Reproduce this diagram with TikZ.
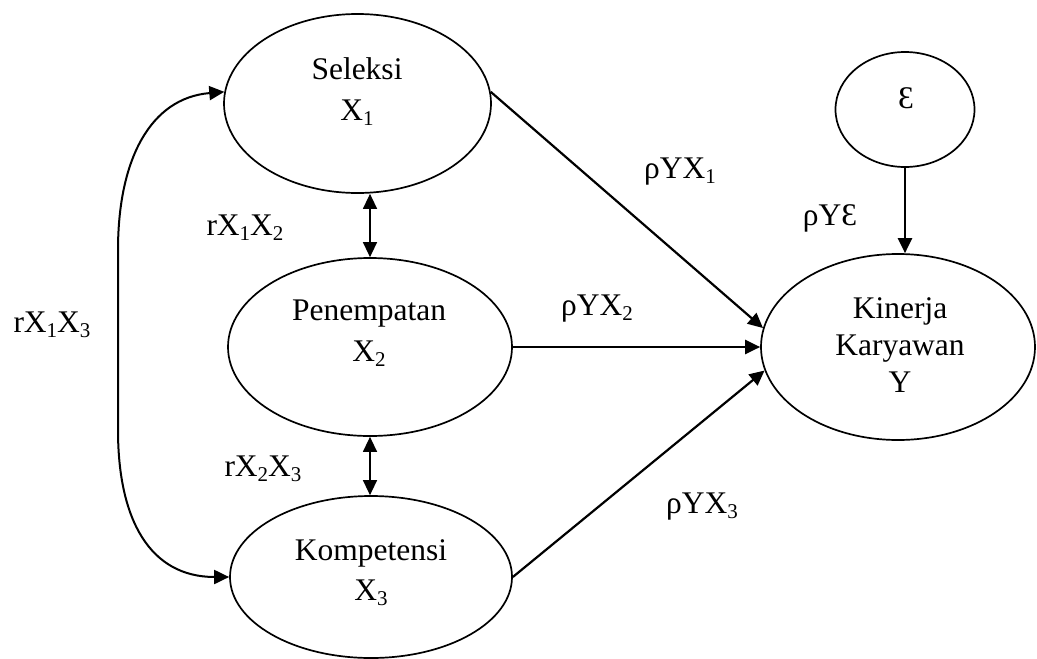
\documentclass[tikz,border=0pt]{standalone}
\usepackage{fontspec}
\setmainfont{Liberation Serif}
\usetikzlibrary{arrows.meta,shapes.geometric}
\newcommand{\subs}[1]{\raisebox{-0.17em}{\fontsize{21}{21}\selectfont #1}}
\begin{document}
\begin{tikzpicture}[x=1pt,y=-1pt,
  every node/.style={font=\fontsize{31.5}{38}\selectfont},
  var/.style={draw, line width=1.7pt, ellipse, inner sep=0pt},
  txt/.style={anchor=base, inner sep=0pt},
  path arrow/.style={line width=2.2pt, -{Triangle[length=15pt,width=14pt]}},
  corr/.style={line width=1.3pt, {Triangle[length=15pt,width=14pt]}-{Triangle[length=15pt,width=14pt]}},
  curve arrow/.style={line width=2pt, {Triangle[length=15pt,width=14pt]}-{Triangle[length=15pt,width=14pt]}}
]
\useasboundingbox (0,0) rectangle (1037,659);
% ellipses
\node[var, minimum width=267pt, minimum height=179pt] (s) at (357.5,103.5) {};
\node[var, minimum width=284pt, minimum height=178pt] (p) at (370,347) {};
\node[var, minimum width=282pt, minimum height=162pt] (c) at (371,577) {};
\node[var, minimum width=139pt, minimum height=115pt] (e) at (905,109.5) {};
\node[var, minimum width=274pt, minimum height=186pt] (k) at (898,347) {};
% texts inside
\node[txt] (s1) at (357,79) {Seleksi};
\node[txt] (s2) at (357,120) {X\subs{1}};
\node[txt] (p1) at (369,320) {Penempatan};
\node[txt] (p2) at (369,361) {X\subs{2}};
\node[txt] (c1) at (371,560) {Kompetensi};
\node[txt] (c2) at (371,600) {X\subs{3}};
\node[txt] (k1) at (900,318) {Kinerja};
\node[txt] (k2) at (900,355) {Karyawan};
\node[txt] (k3) at (900,392) {Y};
\node[txt] (e1) at (906,108) {Ɛ};
% labels
\node[txt] (l12) at (245,235) {rX\subs{1}X\subs{2}};
\node[txt] (l23) at (263,476) {rX\subs{2}X\subs{3}};
\node[txt] (l13) at (52,332) {rX\subs{1}X\subs{3}};
\node[txt] (ly1) at (680,178) {ρYX\subs{1}};
\node[txt] (ly2) at (597,315) {ρYX\subs{2}};
\node[txt] (ly3) at (702,513) {ρYX\subs{3}};
\node[txt] (lye) at (830,225) {ρYƐ};
% connectors
\draw[path arrow] (s.5) -- (k.172);
\draw[path arrow] (p.east) -- (k.west);
\draw[path arrow] (c.east) -- (k.190);
\draw[path arrow] (e.south) -- (e.south |- k.north);
\draw[corr] (p.north) -- (p.north |- s.south);
\draw[corr] (p.south) -- (p.south |- c.north);
\draw[curve arrow] (c.west) .. controls (150,577) and (118,520) .. (118,430) -- (118,250) .. controls (118,160) and (150,98) .. (s.175);
\end{tikzpicture}
\end{document}
